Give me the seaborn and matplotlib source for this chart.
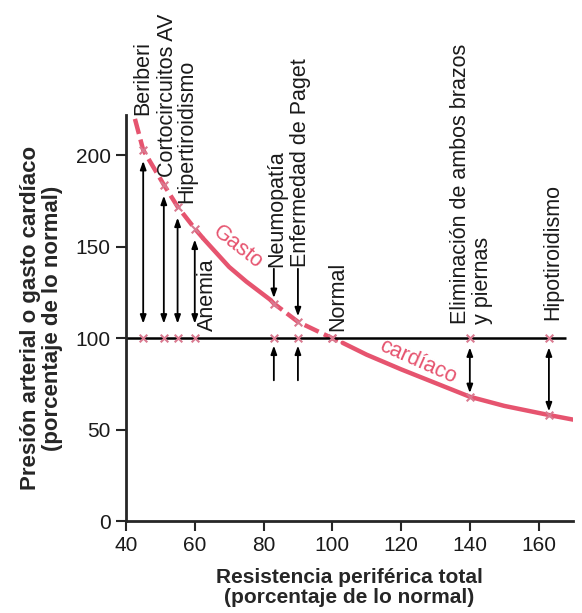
import matplotlib
matplotlib.use("Agg")
import matplotlib.pyplot as plt
import seaborn as sns
import pandas as pd

# curva de gasto cardíaco
curva_x = [42.6, 45, 51, 55, 60, 62.5, 70, 75, 82, 83, 90, 100, 103, 110, 120, 126, 130, 140, 150, 163, 170]
curva_y = [220, 203, 184, 172, 160, 154.5, 139, 131, 121, 119, 109, 100, 97.5, 91, 83, 78.5, 75.5, 68, 63, 58, 55.5]
# tramos de la curva: (desde, hasta, estilo)
tramos = [(42, 62.5, "discontinuo"), (62.5, 82, "continuo"),
          (82, 103, "discontinuo"), (103, 170, "continuo")]

# estados clínicos
cond_nombre = ["Beriberi", "Cortocircuitos AV", "Hipertiroidismo", "Anemia",
               "Neumopatía", "Enfermedad de Paget", "Normal",
               "Eliminación de ambos brazos\ny piernas", "Hipotiroidismo"]
cond_resist = [45, 51, 55, 60, 83, 90, 100, 140, 163]
cond_gasto = [203, 184, 172, 160, 119, 109, 100, 68, 58]
cond_presion = [100, 100, 100, 100, 100, 100, 100, 100, 100]

xticks = [40, 60, 80, 100, 120, 140, 160]
yticks = [0, 50, 100, 150, 200]

# posición de los rótulos (x, y inferior)
rot_pos = [(45, 222), (52.2, 188), (57.7, 174), (63.8, 104), (83.8, 139),
           (90.8, 139), (101.5, 104), (140.5, 108), (164.2, 110)]

rosa = "#e6546f"
rosa_x = "#d97a90"

sns.set_style("ticks")
plt.rcParams["font.family"] = ["Liberation Sans", "DejaVu Sans"]

filas = []
for i, (a, b, estilo) in enumerate(tramos):
    for x, y in zip(curva_x, curva_y):
        if a <= x <= b:
            filas.append({"x": x, "y": y, "tramo": i, "estilo": estilo})
df_curva = pd.DataFrame(filas)

fig = plt.figure(figsize=(5.82, 6.13), dpi=100)
ax = fig.add_axes([0.2165, 0.150, 0.768, 0.662])

sns.lineplot(data=df_curva, x="x", y="y", units="tramo", style="estilo",
             dashes={"continuo": "", "discontinuo": (3.5, 1.3)},
             estimator=None, sort=False, color=rosa, linewidth=3.2,
             legend=False, ax=ax)

# línea de presión normal
ax.hlines(cond_presion[0], 40, 168, color="black", lw=1.8, zorder=2)

df_cond = pd.DataFrame({"resist": cond_resist, "gasto": cond_gasto,
                        "presion": cond_presion})
sns.scatterplot(data=df_cond, x="resist", y="gasto", marker="x", s=30,
                color=rosa_x, linewidth=1.5, zorder=4, ax=ax)
sns.scatterplot(data=df_cond, x="resist", y="presion", marker="x", s=30,
                color=rosa_x, linewidth=1.5, zorder=4, ax=ax)

flecha = dict(arrowstyle="<|-|>,head_length=0.5,head_width=0.18",
              color="black", lw=1.3, shrinkA=0, shrinkB=0)
flecha1 = dict(arrowstyle="-|>,head_length=0.5,head_width=0.18",
               color="black", lw=1.3, shrinkA=0, shrinkB=0)

# flechas dobles: estados con gasto alto
for x, g, p in zip(cond_resist[:4], cond_gasto[:4], cond_presion[:4]):
    ax.annotate("", xy=(x, g - 6), xytext=(x, p + 8), arrowprops=flecha)
# neumopatía y Paget: flecha hacia la curva y hacia la línea normal
for x, g, p, (tx, ty) in zip(cond_resist[4:6], cond_gasto[4:6],
                             cond_presion[4:6], rot_pos[4:6]):
    ax.annotate("", xy=(x, g + 3), xytext=(x, ty - 1), arrowprops=flecha1)
    ax.annotate("", xy=(x, p - 4), xytext=(x, p - 23), arrowprops=flecha1)
# estados con gasto bajo
for x, g, p in zip(cond_resist[7:], cond_gasto[7:], cond_presion[7:]):
    ax.annotate("", xy=(x, g + 2), xytext=(x, p - 5), arrowprops=flecha)

for nombre, (tx, ty) in zip(cond_nombre, rot_pos):
    ax.text(tx, ty, nombre, rotation=90, ha="center", va="bottom",
            ma="left", fontsize=15.5, color="#1a1a1a", clip_on=False,
            linespacing=1.05)

ax.text(72.5, 150, "Gasto", rotation=-38, ha="center", va="center",
        fontsize=15.5, color=rosa)
ax.text(125, 87, "cardíaco", rotation=-24, ha="center", va="center",
        fontsize=15.5, color=rosa)

ax.set_xlim(40, 170)
ax.set_ylim(0, 222)
ax.set_xticks(xticks)
ax.set_yticks(yticks)
ax.tick_params(axis="both", length=7, width=1.5, labelsize=15,
               labelcolor="#1a1a1a", pad=4)
for s in ["left", "bottom"]:
    ax.spines[s].set_linewidth(2)
sns.despine(ax=ax)

ax.set_xlabel("Resistencia periférica total\n(porcentaje de lo normal)",
              fontsize=15, fontweight="bold", labelpad=9, linespacing=1.1)
ax.set_ylabel("Presión arterial o gasto cardíaco\n(porcentaje de lo normal)",
              fontsize=16, fontweight="bold", labelpad=9, linespacing=1.1)

fig.savefig("out.png", dpi=100)
